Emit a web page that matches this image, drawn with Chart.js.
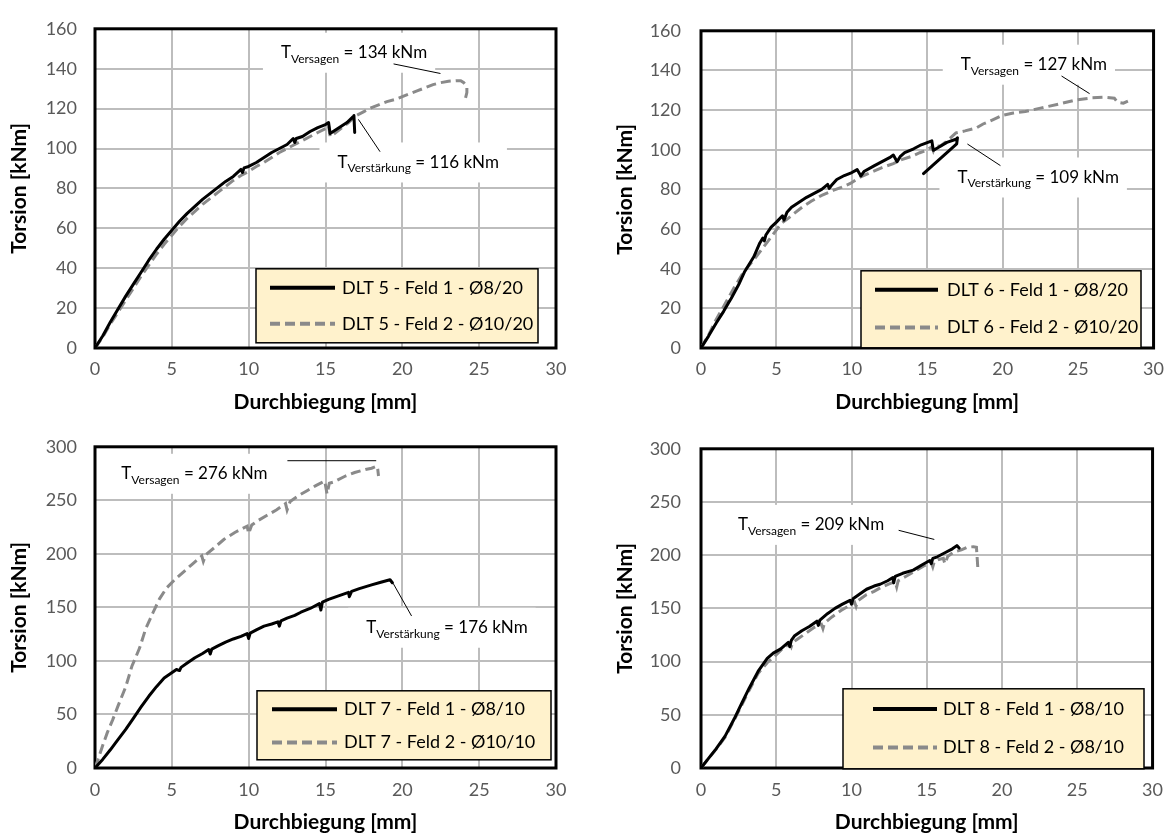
<!DOCTYPE html>
<html><head><meta charset="utf-8">
<script src="https://cdn.jsdelivr.net/npm/chart.js@4.4.1/dist/chart.umd.min.js"></script>
<style>
html,body{margin:0;padding:0;background:#fff;}
#wrap{position:relative;width:1174px;height:836px;overflow:hidden;}
canvas{position:absolute;}
</style></head><body>
<div id="wrap">
<canvas id="c1" width="587" height="418" style="left:0;top:0"></canvas>
<canvas id="c2" width="587" height="418" style="left:587px;top:0"></canvas>
<canvas id="c3" width="587" height="418" style="left:0;top:418px"></canvas>
<canvas id="c4" width="587" height="418" style="left:587px;top:418px"></canvas>
</div>
<script>
// ---------- axis ticks ----------
const xTicks = [0, 5, 10, 15, 20, 25, 30];
const yTicksTop = [0, 20, 40, 60, 80, 100, 120, 140, 160];
const yTicksBottom = [0, 50, 100, 150, 200, 250, 300];
const xTitle = 'Durchbiegung [mm]';
const yTitle = 'Torsion [kNm]';

// ---------- DLT 5 ----------
const dlt5Labels = ['DLT 5 - Feld 1 - Ø8/20', 'DLT 5 - Feld 2 - Ø10/20'];
const dlt5F1x = [0,0.5,1,1.5,2,2.5,3,3.5,4,4.5,5,5.5,6,6.5,7,7.5,8,8.5,9,9.5,9.6,9.7,10,10.5,11,11.5,12,12.5,12.9,13.0,13.1,13.5,14,14.5,15,15.2,15.3,15.6,16,16.4,16.8,16.85,16.9];
const dlt5F1y = [0,6,13,19.5,26,32,38,44,49.5,54.5,59,63.5,67.5,71,74.5,77.5,80.5,83.5,86,89.5,88,90.3,91,93,95.5,98,100,102,105,103,105,106,108.5,110.5,112,113,107.5,109,111,113,116,116.5,108];
const dlt5F2x = [0,0.5,1,1.5,2,2.5,3,3.5,4,4.5,5,5.5,6,6.5,7,7.5,8,8.5,9,9.5,10,10.5,11,11.5,12,12.5,13,13.5,14,14.5,15,15.2,15.3,15.5,16,16.5,17,17.5,18,18.5,19,19.5,20,20.5,21,21.5,22,22.5,23,23.5,23.8,24.0,24.2,24.2,24.1];
const dlt5F2y = [0,5.5,12,18,24,30,36,41.5,47,52,56.5,61,65,68.5,72,75,78,81,84,86.5,88.5,91,93,95.5,98,100,102,104,106,108,110,111.5,106,107,110,113,116.5,118.5,120.5,122,123.5,124.5,126,127.5,129,130.5,132,133,133.7,134,134,133,131,128,125];
const dlt5Notes = [['T', 'Versagen', ' = 134 kNm'], ['T', 'Verstärkung', ' = 116 kNm']];

// ---------- DLT 6 ----------
const dlt6Labels = ['DLT 6 - Feld 1 - Ø8/20', 'DLT 6 - Feld 2 - Ø10/20'];
const dlt6F1x = [0,0.5,1,1.5,1.8,2,2.5,2.9,3.5,3.9,4.1,4.2,4.3,4.65,5,5.4,5.5,5.7,6,6.5,7,7.5,8,8.4,8.5,8.7,9,9.5,10,10.35,10.6,10.8,11.5,12,12.5,12.75,13,13.2,13.5,14.1,14.6,15.3,15.4,15.7,16.3,16.9,17.0,16.95,14.75];
const dlt6F1y = [0,6,12.5,18.5,22.5,25,32,38.6,46,53,55.5,54,57,61,63.5,66.7,64.5,68.5,71,73.5,76,78,80,82.5,80.5,82.5,85,87,88.5,90,86.8,89,92,94,96,97.3,94,96.5,98.5,100.5,102.5,104.5,99.7,101,103.7,105.3,106,103,88];
const dlt6F2x = [0,0.5,0.9,1.5,2.2,2.8,3.55,4.1,4.65,5.3,5.8,6.2,6.7,7.3,8,8.8,9.3,9.9,10.5,11.2,12,12.75,13.3,13.9,14.5,14.95,15.3,15.4,15.5,15.9,16.4,16.9,17.5,18.25,18.7,19.3,20,20.7,21.5,22.5,23.7,24.8,25.9,26.7,27.4,27.6,28.0,28.3];
const dlt6F2y = [0,6.5,12.9,21,30.5,38,45,50.5,56,62.7,65.5,68,71,74,77,79.6,81,83,86,88.4,91,93,95,96.5,98.5,99.7,101.5,99.5,101.5,102,105,108.5,109.5,111,113,115,117.4,118.5,119.3,121,123,125,126.2,126.5,126,124,123.5,124.5];
const dlt6Notes = [['T', 'Versagen', ' = 127 kNm'], ['T', 'Verstärkung', ' = 109 kNm']];

// ---------- DLT 7 ----------
const dlt7Labels = ['DLT 7 - Feld 1 - Ø8/10', 'DLT 7 - Feld 2 - Ø10/10'];
const dlt7F1x = [0,0.5,1,1.36,2,2.45,3,3.5,4.0,4.5,5.3,5.5,5.6,6,6.5,7,7.4,7.5,7.6,8,8.5,9,9.5,9.9,10.0,10.1,10.5,11,11.5,11.9,12.0,12.1,12.5,13,13.4,14,14.6,14.7,14.8,15.2,15.8,16.5,16.55,16.7,17.2,18.0,18.6,19.2,19.35];
const dlt7F1y = [0,8,17,24,36,45.5,57,67,76,84,92,91,94,98,103,107,110.6,106.5,111,114,117.5,120.5,123,125.5,121,126,129,132.5,134.5,136.5,132.5,137.5,140,142.5,145.5,149,153.5,147.5,155,157.5,160.5,164,160,165,167.5,171,173.5,175.8,173];
const dlt7F2x = [0,0.2,0.5,0.8,1.15,1.5,2.0,2.4,2.9,3.3,3.77,4.2,4.65,5.2,5.75,6.3,6.95,7.05,7.2,7.7,8.4,9.1,9.9,10.0,10.2,10.6,11.2,11.8,12.4,12.5,12.7,13.2,13.8,14.4,14.95,15.1,15.25,15.5,16.3,16.9,17.6,18.0,18.35,18.4,18.45];
const dlt7F2y = [0,8,21,33,45,58,75.8,95,112,130,145,158,168,176,183,190,198,193,199,205,213.6,220,225.8,219,227,231,236,241,247,241,249,254,259,264,268,256,266,267,272.7,276,278.8,280,282,279,272.7];
const dlt7Notes = [['T', 'Versagen', ' = 276 kNm'], ['T', 'Verstärkung', ' = 176 kNm']];

// ---------- DLT 8 ----------
const dlt8Labels = ['DLT 8 - Feld 1 - Ø8/10', 'DLT 8 - Feld 2 - Ø8/10'];
const dlt8F1x = [0,0.5,1,1.6,2.2,2.7,3.2,3.8,4.4,4.8,5.3,5.8,5.9,6.0,6.2,6.7,7.2,7.7,7.8,7.9,8.4,8.9,9.4,9.9,10.0,10.1,10.5,11,11.5,11.9,12.4,12.75,12.8,12.9,13.4,14.1,14.7,15.2,15.3,15.4,15.7,16.3,16.7,17.0,17.15];
const dlt8F1y = [0,9,18,30,46,60.6,75,91,103,108,112,118,114,120,124,129,133,138,134,139,145,150,154,157.6,154,159,163,168,171,172.7,176,179,174,180,183,186,191,195,192,197,198.5,203,206,209,206.7];
const dlt8F2x = [0,0.5,1,1.6,2.2,2.7,3.2,3.8,4.4,4.9,5.4,5.9,6.0,6.1,6.4,7.0,7.5,8.0,8.1,8.2,8.7,9.3,9.9,10.2,10.3,10.4,11,11.5,12,12.5,12.9,13.0,13.1,13.6,14.2,14.8,15.3,15.4,15.5,15.8,16.1,16.2,16.4,16.8,17.3,17.7,18.1,18.3,18.35,18.4];
const dlt8F2y = [0,9,17.5,29,45,59,73,89,99,105,112,117,114,118,121,127,132,135,131,136,142,148,153,156,152,157,163,166,170,173,175,170,176,180,185,190,193,189,194,196,197,192,199,203,205,207.5,208,207.5,197,186];
const dlt8Notes = [['T', 'Versagen', ' = 209 kNm']];

// ---------- styles ----------
const FONT = 'Lato, "Open Sans", sans-serif';
const GRAY = '#8A8A8A';
const GRID = '#BDBDBD';
const TICKC = '#595959';
const pts = (xs, ys) => xs.map((v, i) => ({x: v, y: ys[i]}));

const deco = {
  id: 'deco',
  beforeDatasetsDraw(chart, args, o) {
    const {ctx, chartArea: a, scales: {x, y}} = chart;
    ctx.save();
    (o.notes || []).forEach(n => {
      const w = noteWidth(ctx, n.parts);
      const px = x.getPixelForValue(n.x), py = y.getPixelForValue(n.y);
      ctx.fillStyle = '#fff';
      ctx.fillRect(px - 18, py - 20, w + 26, 40);
    });
    ctx.strokeStyle = '#000';
    ctx.lineWidth = 3;
    ctx.strokeRect(a.left, a.top, a.right - a.left, a.bottom - a.top);
    ctx.restore();
  },
  afterDatasetsDraw(chart, args, o) {
    const {ctx, chartArea: a, scales: {x, y}} = chart;
    ctx.save();
    (o.notes || []).forEach(n => {
      ctx.strokeStyle = '#000';
      ctx.lineWidth = 1;
      ctx.beginPath();
      ctx.moveTo(x.getPixelForValue(n.line[0]), y.getPixelForValue(n.line[1]));
      ctx.lineTo(x.getPixelForValue(n.line[2]), y.getPixelForValue(n.line[3]));
      ctx.stroke();
      drawNote(ctx, n.parts, x.getPixelForValue(n.x), y.getPixelForValue(n.y));
    });
    // legend
    const L = o.legend;
    const bx = a.left + L.dx, by = a.top + L.dy;
    ctx.fillStyle = '#FFF2CC';
    ctx.fillRect(bx, by, L.w, L.h);
    ctx.strokeStyle = '#000';
    ctx.lineWidth = 1.5;
    ctx.strokeRect(bx, by, L.w, L.h);
    chart.data.datasets.forEach((ds, i) => {
      const ry = by + L.rows[i];
      ctx.save();
      ctx.strokeStyle = ds.borderColor;
      ctx.lineWidth = 4;
      ctx.setLineDash(ds.borderDash || []);
      ctx.beginPath();
      ctx.moveTo(bx + L.l0, ry);
      ctx.lineTo(bx + L.l1, ry);
      ctx.stroke();
      ctx.restore();
      ctx.fillStyle = '#000';
      ctx.font = '18px ' + FONT;
      ctx.textBaseline = 'middle';
      ctx.textAlign = 'left';
      ctx.fillText(ds.label, bx + L.tx, ry);
    });
    ctx.restore();
  }
};
function noteWidth(ctx, p) {
  ctx.font = '17px ' + FONT; let w = ctx.measureText(p[0]).width + ctx.measureText(p[2]).width;
  ctx.font = '12px ' + FONT; w += ctx.measureText(p[1]).width;
  return w;
}
function drawNote(ctx, p, px, py) {
  ctx.fillStyle = '#000';
  ctx.textBaseline = 'middle';
  ctx.textAlign = 'left';
  ctx.font = '17px ' + FONT;
  ctx.fillText(p[0], px, py);
  let w = ctx.measureText(p[0]).width;
  ctx.font = '12px ' + FONT;
  ctx.fillText(p[1], px + w, py + 6);
  w += ctx.measureText(p[1]).width;
  ctx.font = '17px ' + FONT;
  ctx.fillText(p[2], px + w, py);
}

function makeChart(id, p) {
  return new Chart(document.getElementById(id), {
    type: 'line',
    data: {datasets: [
      {label: p.labels[0], data: pts(p.s1x, p.s1y), borderColor: '#000', borderWidth: 3, pointRadius: 0, tension: 0, borderJoinStyle: 'round', borderCapStyle: 'round'},
      {label: p.labels[1], data: pts(p.s2x, p.s2y), borderColor: GRAY, borderWidth: 3, borderDash: [10, 5], pointRadius: 0, tension: 0}
    ]},
    options: {
      responsive: false, animation: false, devicePixelRatio: 1,
      layout: {padding: {left: 0, top: p.top, right: 587 - p.right, bottom: 0}},
      scales: {
        x: {type: 'linear', min: 0, max: 30,
          afterBuildTicks: s => { s.ticks = xTicks.map(v => ({value: v})); },
          ticks: {color: TICKC, font: {family: FONT, size: 18}, padding: p.xtp, maxRotation: 0},
          grid: {color: GRID, lineWidth: 2, drawTicks: false}, border: {display: false},
          title: {display: true, text: xTitle, color: '#000', font: {family: FONT, size: 21, weight: 'bold'}, padding: {top: 0, bottom: p.xtb}},
          afterFit: s => { s.height = 418 - p.bottom; }},
        y: {type: 'linear', min: 0, max: p.yticks[p.yticks.length - 1],
          afterBuildTicks: s => { s.ticks = p.yticks.map(v => ({value: v})); },
          ticks: {color: TICKC, font: {family: FONT, size: 18}, padding: p.ytp},
          grid: {color: GRID, lineWidth: 2, drawTicks: false}, border: {display: false},
          title: {display: true, text: yTitle, color: '#000', font: {family: FONT, size: 21, weight: 'bold'}, padding: {top: p.ytt, bottom: 0}},
          afterFit: s => { s.width = p.left; }}
      },
      plugins: {legend: {display: false}, tooltip: {enabled: false},
        deco: {notes: p.notes, legend: p.legend}}
    },
    plugins: [deco]
  });
}

makeChart('c1', {labels: dlt5Labels, s1x: dlt5F1x, s1y: dlt5F1y, s2x: dlt5F2x, s2y: dlt5F2y, yticks: yTicksTop,
  left: 95, right: 556, top: 18, bottom: 348, xtp: 10, xtb: 3, ytp: 18, ytt: 7,
  notes: [{parts: dlt5Notes[0], x: 12.1, y: 148, line: [19.43, 142.4, 22.48, 137.6]},
          {parts: dlt5Notes[1], x: 15.78, y: 93, line: [17.14, 114.6, 18.55, 98.4]}],
  legend: {dx: 161, dy: 240, w: 282, h: 74, l0: 14, l1: 79, tx: 86, rows: [19, 55]}});

makeChart('c2', {labels: dlt6Labels, s1x: dlt6F1x, s1y: dlt6F1y, s2x: dlt6F2x, s2y: dlt6F2y, yticks: yTicksTop,
  left: 114, right: 571, top: 18, bottom: 348, xtp: 10, xtb: 3, ytp: 20, ytt: 26,
  notes: [{parts: dlt6Notes[0], x: 17.22, y: 142.9, line: [23.9, 137.2, 25.76, 128.3]},
          {parts: dlt6Notes[1], x: 17.0, y: 86, line: [17.66, 102.9, 19.85, 92]}],
  legend: {dx: 160, dy: 240, w: 280, h: 77, l0: 14, l1: 77, tx: 86, rows: [19, 56.6]}});

makeChart('c3', {labels: dlt7Labels, s1x: dlt7F1x, s1y: dlt7F1y, s2x: dlt7F2x, s2y: dlt7F2y, yticks: yTicksBottom,
  left: 95, right: 556, top: 20, bottom: 350, xtp: 11, xtb: 1, ytp: 18, ytt: 7,
  notes: [{parts: dlt7Notes[0], x: 1.71, y: 274.8, line: [12.52, 287, 18.3, 287]},
          {parts: dlt7Notes[1], x: 17.65, y: 131, line: [19.4, 172.5, 20.6, 142]}],
  legend: {dx: 162, dy: 244, w: 294, h: 69, l0: 15, l1: 80, tx: 87, rows: [18.4, 51.7]}});

makeChart('c4', {labels: dlt8Labels, s1x: dlt8F1x, s1y: dlt8F1y, s2x: dlt8F2x, s2y: dlt8F2y, yticks: yTicksBottom,
  left: 114, right: 571, top: 20, bottom: 350, xtp: 11, xtb: 1, ytp: 20, ytt: 26,
  notes: [{parts: dlt8Notes[0], x: 2.45, y: 228.5, line: [13.13, 223.4, 15.5, 214.8]}],
  legend: {dx: 142, dy: 240, w: 301, h: 80, l0: 30, l1: 94, tx: 100, rows: [20.3, 58.7]}});
</script>
</body></html>
